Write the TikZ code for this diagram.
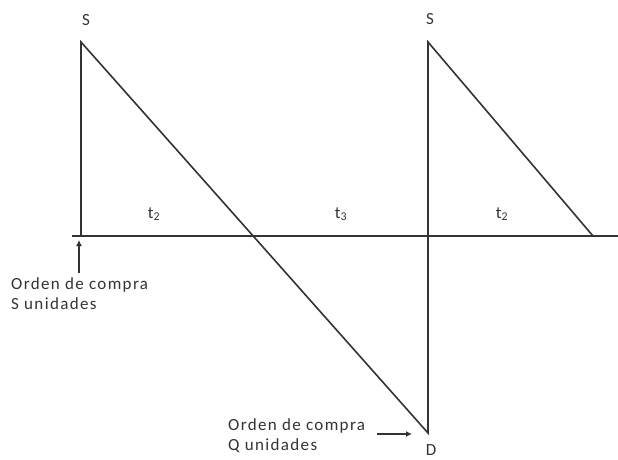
\documentclass[tikz,border=0pt]{standalone}
\usepackage{fontspec}
\setmainfont{Carlito}[LetterSpace=8]
\usetikzlibrary{arrows.meta}
\begin{document}
\begin{tikzpicture}[x=1pt,y=-1pt,
  ln/.style={line width=1.6pt,draw=black!80},
  lbl/.style={font=\fontsize{17}{20}\selectfont,text=black!80,inner sep=0pt},
  arr/.style={line width=1.3pt,draw=black!80,-{Latex[length=6pt,width=6pt]}}]
\useasboundingbox (0,0) rectangle (618,460);
\coordinate (A) at (81,42);
\coordinate (B) at (81,236);
\coordinate (C) at (428,433);
\coordinate (E) at (428,42);
\coordinate (F) at (593,236);
\coordinate (X0) at (72,236);
\coordinate (X1) at (618,236);
\draw[ln] (X0) -- (X1);
\draw[ln] (B) -- (A) -- (C) -- (E) -- (F);
\node[lbl] (s1) at (86,20) {S};
\node[lbl] (s2) at (430,19) {S};
\node[lbl] (d) at (431,450) {D};
\node[lbl] (ta) at (154,214) {t\textsubscript{2}};
\node[lbl] (tb) at (341,214) {t\textsubscript{3}};
\node[lbl] (tc) at (502,214) {t\textsubscript{2}};
\node[lbl,align=left,anchor=west] (o1) at (11,294) {Orden de compra\\S unidades};
\node[lbl,align=left,anchor=west] (o2) at (228,436) {Orden de compra\\Q unidades};
\coordinate (a1s) at (79,273);
\coordinate (a1e) at (79,240);
\draw[arr] (a1s) -- (a1e);
\coordinate (a2s) at (377,434);
\coordinate (a2e) at (412,434);
\draw[arr] (a2s) -- (a2e);
\end{tikzpicture}
\end{document}
